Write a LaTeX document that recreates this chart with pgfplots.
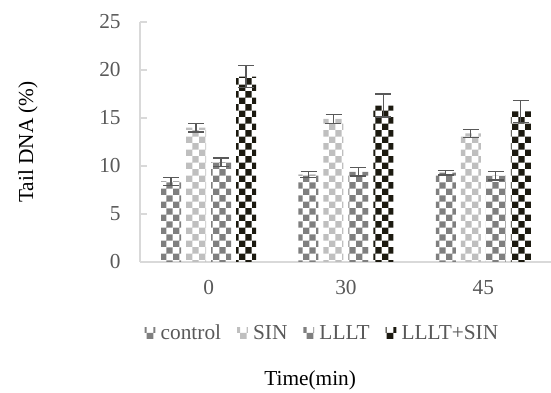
\documentclass[border=0pt]{standalone}
\usepackage{fontspec}
\setmainfont{Liberation Serif}
\usepackage{pgfplots}
\pgfplotsset{compat=1.18}
\usetikzlibrary{patterns}
\pgfdeclarepatternformonly{bigchecker}{\pgfpointorigin}{\pgfqpoint{10pt}{10pt}}{\pgfqpoint{10pt}{10pt}}{%
  \pgfpathrectangle{\pgfpointorigin}{\pgfqpoint{5pt}{5pt}}%
  \pgfpathrectangle{\pgfqpoint{5pt}{5pt}}{\pgfqpoint{5pt}{5pt}}%
  \pgfusepath{fill}}
\definecolor{cctrl}{HTML}{7F7F7F}
\definecolor{csin}{HTML}{BFBFBF}
\definecolor{clllt}{HTML}{7F7F7F}
\definecolor{cboth}{HTML}{1C1A10}
\definecolor{cerr}{HTML}{595959}
\definecolor{caxis}{HTML}{D9D9D9}
\definecolor{ctext}{HTML}{595959}
\pgfplotstableread{
x y e
0 8.4 0.4
1 9.1 0.3
2 9.3 0.25
}\tctrl
\pgfplotstableread{
x y e
0 14.0 0.45
1 14.9 0.45
2 13.4 0.4
}\tsin
\pgfplotstableread{
x y e
0 10.4 0.45
1 9.4 0.45
2 9.0 0.45
}\tlllt
\pgfplotstableread{
x y e
0 19.3 1.15
1 16.3 1.2
2 15.7 1.15
}\tboth
\begin{document}
\begin{tikzpicture}
\useasboundingbox (0,0) rectangle (413.25pt,294.75pt);
\begin{axis}[
  at={(105pt,98.25pt)}, anchor=south west,
  width=309pt, height=180pt, scale only axis,
  ybar=3.75pt, bar width=15pt,
  xmin=-0.5, xmax=2.5, ymin=0, ymax=25,
  axis lines*=left,
  axis line style={caxis, line width=0.8pt},
  xtick={0,1,2}, xticklabels={0,30,45},
  major x tick style={draw=none},
  extra x ticks={0.5,1.5}, extra x tick labels={},
  extra x tick style={major tick length=5pt, tick style={caxis, line width=0.8pt}, tick align=inside},
  ytick={0,5,...,25},
  ytick style={caxis, line width=0.8pt}, tick align=inside, major tick length=5pt,
  ticklabel style={font=\fontsize{16}{18}\selectfont, text=ctext},
  /pgf/number format/assume math mode=true,
  yticklabel style={xshift=-11pt},
  xticklabel style={yshift=-10pt},
  ylabel={Tail DNA (\%)},
  xlabel={Time(min)},
  label style={font=\fontsize{16}{18}\selectfont},
  ylabel style={at={(axis description cs:-0.272,0.5)}, anchor=center},
  xlabel style={at={(axis description cs:0.413,-0.492)}, anchor=center},
  legend style={at={(axis description cs:0.442,-0.296)}, anchor=center, draw=none, fill=none,
    legend columns=4, font=\fontsize{16}{18}\selectfont, text=ctext,
    nodes={inner sep=1pt},
    /tikz/every odd column/.append style={column sep=3pt},
    /tikz/every even column/.append style={column sep=11pt}},
  legend image code/.code={\path[#1, draw=none] (0pt,-4pt) rectangle (8pt,4pt);},
  error bars/y dir=both, error bars/y explicit,
  error bars/error bar style={cerr, line width=1pt},
  error bars/error mark options={rotate=90, mark size=6pt, line width=1pt, cerr},
]
\addplot[draw=none, pattern=bigchecker, pattern color=cctrl] table[x=x,y=y,y error=e]{\tctrl};
\addplot[draw=none, pattern=bigchecker, pattern color=csin] table[x=x,y=y,y error=e]{\tsin};
\addplot[draw=none, pattern=bigchecker, pattern color=clllt] table[x=x,y=y,y error=e]{\tlllt};
\addplot[draw=none, pattern=bigchecker, pattern color=cboth] table[x=x,y=y,y error=e]{\tboth};
\legend{control,SIN,LLLT,LLLT+SIN}
\end{axis}
\end{tikzpicture}
\end{document}
